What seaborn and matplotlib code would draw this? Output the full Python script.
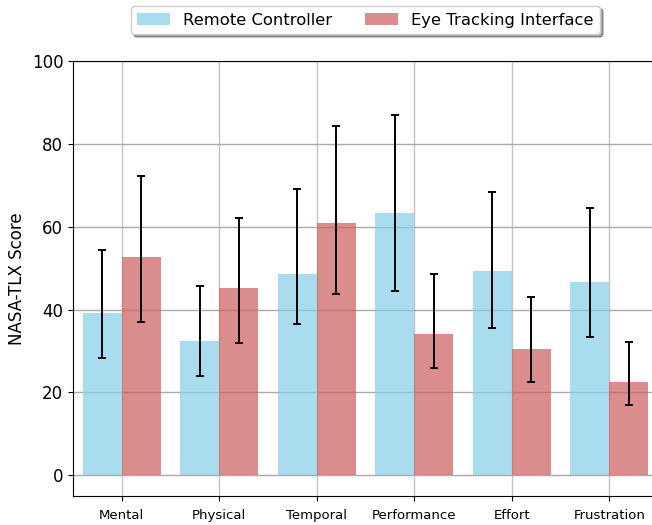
import matplotlib
matplotlib.use('Agg')
import matplotlib.pyplot as plt
import numpy as np
import pandas as pd
import seaborn as sns

# NASA-TLX subscales
categories = ["Mental", "Physical", "Temporal", "Performance", "Effort", "Frustration"]
conditions = ["Remote Controller", "Eye Tracking Interface"]

# bar heights
remote_mean = [39.2, 32.5, 48.7, 63.3, 49.3, 46.7]
eye_mean = [52.7, 45.1, 60.8, 34.2, 30.5, 22.6]

# error bar ends (lower, upper)
remote_low = [28.3, 24.0, 36.5, 44.5, 35.5, 33.3]
remote_high = [54.5, 45.6, 69.1, 86.9, 68.4, 64.4]
eye_low = [37.1, 32.0, 43.8, 25.9, 22.5, 17.0]
eye_high = [72.3, 62.2, 84.4, 48.6, 43.0, 32.2]

df = pd.DataFrame({
    "category": categories * 2,
    "condition": [conditions[0]] * 6 + [conditions[1]] * 6,
    "score": remote_mean + eye_mean,
})

fig = plt.figure(figsize=(6.52, 5.25), dpi=100)
ax = fig.add_axes([73 / 652, 1 - 496 / 525, 585 / 652, 435 / 525])

palette = {conditions[0]: "skyblue", conditions[1]: "indianred"}
sns.barplot(data=df, x="category", y="score", hue="condition", order=categories,
            hue_order=conditions, palette=palette, alpha=0.7, errorbar=None,
            saturation=1, width=0.8, ax=ax, zorder=2)

# asymmetric error bars on top of each bar
for cont, means, lows, highs in zip(ax.containers,
                                    [remote_mean, eye_mean],
                                    [remote_low, eye_low],
                                    [remote_high, eye_high]):
    xs = [p.get_x() + p.get_width() / 2 for p in cont.patches]
    m = np.array(means)
    yerr = [m - np.array(lows), np.array(highs) - m]
    ax.errorbar(xs, m, yerr=yerr, fmt="none", ecolor="black",
                elinewidth=1.4, capsize=3, capthick=1.4, zorder=3)

ax.set_xlim(-0.5, 5.5)
ax.set_ylim(-5, 100)
ax.set_yticks([0, 20, 40, 60, 80, 100])
ax.yaxis.grid(True, color="#aaaaaa", linewidth=1.0)
ax.xaxis.grid(True, color="#c4c4c4", linewidth=1.0)
ax.set_axisbelow(True)
ax.set_xlabel("")
ax.set_ylabel("NASA-TLX Score", fontsize=12)
ax.tick_params(axis="x", labelsize=9.5, pad=6)
ax.tick_params(axis="y", labelsize=12)

ax.legend(loc="center", bbox_to_anchor=(0.5, 1.094), ncol=2, shadow=True,
          fontsize=11.8, frameon=True)

fig.savefig("out.png", dpi=100)
